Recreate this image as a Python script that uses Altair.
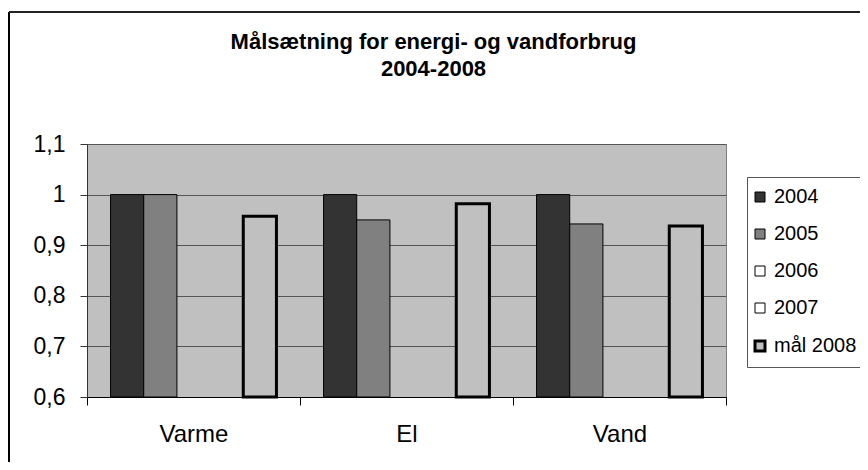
import altair as alt
import pandas as pd

categories = ["Varme", "El", "Vand"]
series = ["2004", "2005", "2006", "2007", "mål 2008"]
v2004 = [1.0, 1.0, 1.0]
v2005 = [1.0, 0.95, 0.942]
v2006 = [None, None, None]
v2007 = [None, None, None]
v2008 = [0.957, 0.982, 0.938]
y_ticks = [0.6, 0.7, 0.8, 0.9, 1.0, 1.1]
title_lines = ["Målsætning for energi- og vandforbrug", "2004-2008"]

fills = ["#333333", "#808080", "#ffffff", "#ffffff", "#c0c0c0"]
edge_colors = ["#000000"] * 5
edge_widths = [1, 1, 1, 1, 3]

rows = []
for s, vals in zip(series, [v2004, v2005, v2006, v2007, v2008]):
    for c, v in zip(categories, vals):
        rows.append({"kategori": c, "serie": s, "værdi": v})
df = pd.DataFrame(rows)

FONT = "Liberation Sans"
W, H = 639, 253


def make_legend():
    return alt.Legend(
        title=None, orient="none", legendX=660, legendY=33,
        strokeColor="#555555", fillColor="#ffffff", padding=10,
        symbolType="square", symbolSize=100, symbolOffset=-7,
        symbolStrokeColor="#000000",
        labelFont=FONT, labelFontSize=20, labelColor="#000000", labelOffset=4,
        rowPadding=17,
    )


x_enc = alt.X("kategori:N", sort=categories,
              scale=alt.Scale(paddingInner=0, paddingOuter=0),
              axis=alt.Axis(title=None, tickBand="extent", labelAngle=0,
                            labelFont=FONT, labelFontSize=24, labelColor="#000000",
                            labelPadding=17, tickSize=8, tickColor="#000000",
                            domainColor="#000000", labelBaseline="top", grid=False))
xo_enc = alt.XOffset("serie:N", sort=series,
                     scale=alt.Scale(domain=series, paddingInner=0, paddingOuter=0.71))
y_enc = alt.Y("værdi:Q",
              scale=alt.Scale(domain=[0.6, 1.1], nice=False, zero=False),
              axis=alt.Axis(title=None, values=y_ticks,
                            labelExpr="replace(format(datum.value, '.1~f'), '.', ',')",
                            labelFont=FONT, labelFontSize=23, labelColor="#000000",
                            labelPadding=15, tickSize=7, tickColor="#333333",
                            domainColor="#333333", grid=True, gridColor="#555555",
                            gridOpacity=1, gridWidth=1))

bars = alt.Chart(df).mark_bar().encode(
    x=x_enc, xOffset=xo_enc, y=y_enc, y2=alt.datum(0.6),
    fill=alt.Fill("serie:N", sort=series,
                  scale=alt.Scale(domain=series, range=fills), legend=make_legend()),
    stroke=alt.Stroke("serie:N", sort=series,
                      scale=alt.Scale(domain=series, range=edge_colors), legend=make_legend()),
    strokeWidth=alt.StrokeWidth("serie:N", sort=series,
                                scale=alt.Scale(type="ordinal", domain=series, range=edge_widths),
                                legend=make_legend()),
)

frame_left = alt.Chart(df).mark_rule(color="#000000", strokeWidth=1, clip=False).encode(
    x=alt.value(-78), y=alt.value(-132), y2=alt.value(H + 80)
)
frame_top = alt.Chart(df).mark_rule(color="#222222", strokeWidth=2, clip=False).encode(
    x=alt.value(-78), x2=alt.value(W + 150), y=alt.value(-132)
)

chart = alt.layer(frame_left, frame_top, bars).properties(
    width=W, height=H,
    autosize=alt.AutoSizeParams(type="none"),
    padding={"left": 79, "top": 136, "right": 134, "bottom": 65},
    background="#ffffff",
    title=alt.Title(text=title_lines, font=FONT, fontSize=22, fontWeight="bold",
                    color="#000000", anchor="middle", dx=27, offset=0, dy=70,
                    lineHeight=27),
).configure_view(
    fill="#c0c0c0", stroke="#808080", strokeWidth=1
)

chart.save("out.html", embed_options={"renderer": "svg", "actions": False})
